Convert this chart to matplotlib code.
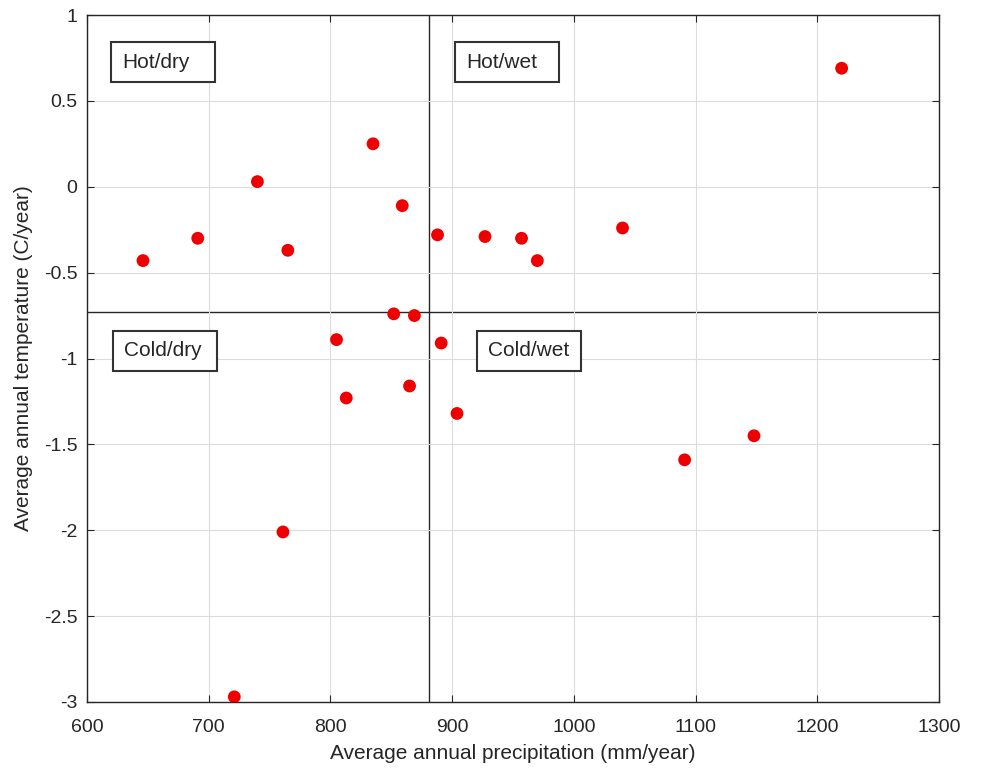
import matplotlib
matplotlib.use("Agg")
import matplotlib.pyplot as plt
from matplotlib.patches import Rectangle
import numpy as np

plt.rcParams.update({
    "font.family": ["Liberation Sans", "DejaVu Sans"],
    "font.size": 14,
    "axes.unicode_minus": False,
})

# Average annual precipitation (mm/year) and temperature trend (C/year)
precip = [646, 691, 740, 765, 835, 859, 888, 852, 869, 927, 957, 970,
          1040, 1220, 805, 813, 865, 891, 904, 761, 721, 1091, 1148]
temp = [-0.43, -0.30, 0.03, -0.37, 0.25, -0.11, -0.28, -0.74, -0.75,
        -0.29, -0.30, -0.43, -0.24, 0.69, -0.89, -1.23, -1.16, -0.91,
        -1.32, -2.01, -2.97, -1.59, -1.45]

x_ticks = [600, 700, 800, 900, 1000, 1100, 1200, 1300]
y_ticks = [-3, -2.5, -2, -1.5, -1, -0.5, 0, 0.5, 1]
y_tick_labels = ["-3", "-2.5", "-2", "-1.5", "-1", "-0.5", "0", "0.5", "1"]

# quadrant labels: (text, left px, top px) in figure pixels
quadrants = [("Hot/dry", 111, 42), ("Hot/wet", 455, 42),
             ("Cold/dry", 113, 331), ("Cold/wet", 477, 331)]

W, H = 984, 770
fig = plt.figure(figsize=(W / 100, H / 100), dpi=100)
ax = fig.add_axes([87 / W, 68 / H, 852 / W, 687 / H])

ax.grid(True, color="#dcdcdc", lw=0.8, zorder=0)
ax.axvline(np.mean(precip), color="#262626", lw=1.0, zorder=1)
ax.axhline(np.mean(temp), color="#262626", lw=1.0, zorder=1)
ax.scatter(precip, temp, s=85, color="#ee0000", edgecolors="none", zorder=3)

ax.set_xlim(600, 1300)
ax.set_ylim(-3, 1)
ax.set_xticks(x_ticks)
ax.set_yticks(y_ticks)
ax.set_yticklabels(y_tick_labels)
ax.tick_params(direction="in", top=True, right=True, length=5,
               color="#262626", labelcolor="#262626")
ax.tick_params(axis="x", pad=12)
ax.tick_params(axis="y", pad=7)
for sp in ax.spines.values():
    sp.set_color("#262626")
    sp.set_linewidth(1.0)

ax.set_xlabel("Average annual precipitation (mm/year)", color="#262626",
              fontsize=15, labelpad=6)
ax.set_ylabel("Average annual temperature (C/year)", color="#262626",
              fontsize=15, labelpad=8)

bw, bh = 104, 40
for label, left, top in quadrants:
    fig.patches.append(Rectangle((left / W, 1 - (top + bh) / H), bw / W, bh / H,
                                 transform=fig.transFigure, fill=True,
                                 facecolor="white", edgecolor="#333333",
                                 lw=1.5, zorder=5))
    fig.text((left + 11) / W, 1 - (top + bh / 2) / H, label, ha="left",
             va="center", fontsize=15, color="#262626", zorder=6)

fig.savefig("out.png", dpi=100)
